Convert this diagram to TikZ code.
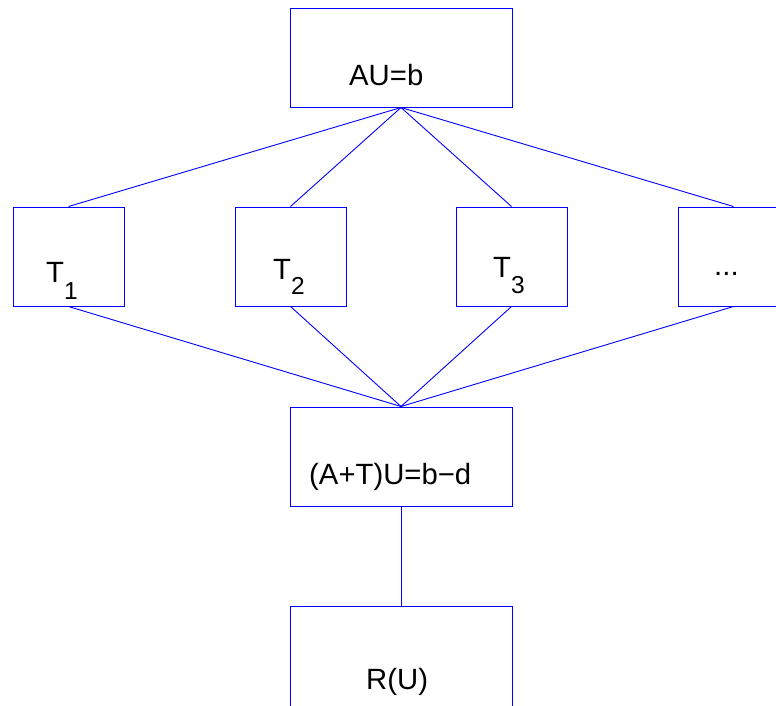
\documentclass[tikz,border=0pt]{standalone}
\usepackage{fontspec}
\setmainfont{Liberation Sans}
\begin{document}
\begin{tikzpicture}[x=1pt,y=-1pt,
  box/.style={draw=blue,line width=1pt,rectangle,inner sep=0pt,minimum height=99pt},
  wide/.style={box,minimum width=222pt},
  narrow/.style={box,minimum width=111pt},
  conn/.style={draw=blue,line width=0.9pt},
  lbl/.style={inner sep=0pt,anchor=base west,font=\fontsize{29.3}{34}\selectfont}]
\newcommand{\subsc}[2]{\raisebox{-#1pt}{\fontsize{24.5}{24}\selectfont #2}}
\path[use as bounding box,clip] (0,0) rectangle (776,705);
% boxes
\node[wide] (top) at (401,57.5) {};
\node[narrow] (t1) at (68.5,256.5) {};
\node[narrow] (t2) at (290.5,256.5) {};
\node[narrow] (t3) at (511.5,256.5) {};
\node[narrow] (t4) at (733.5,256.5) {};
\node[wide] (mid) at (401,456.5) {};
\node[wide,minimum height=130pt] (bot) at (401,671) {};
% texts
\node[lbl] (ltop) at (349,85) {AU=b};
\node[lbl] (lt1) at (46,282) {T\subsc{17}{1}};
\node[lbl] (lt2) at (273,279) {T\subsc{15}{2}};
\node[lbl] (lt3) at (493,277) {T\subsc{16}{3}};
\node[lbl] (lt4) at (714,275) {...};
\node[lbl] (lmid) at (309,484) {(A+T)U=b−d};
\node[lbl] (lbot) at (366,689) {R(U)};
% connectors
\foreach \t in {t1,t2,t3,t4}{
  \draw[conn] (top.south) -- (\t.north);
  \draw[conn] (\t.south) -- (mid.north);
}
\draw[conn] (mid.south) -- (bot.north);
\end{tikzpicture}
\end{document}
